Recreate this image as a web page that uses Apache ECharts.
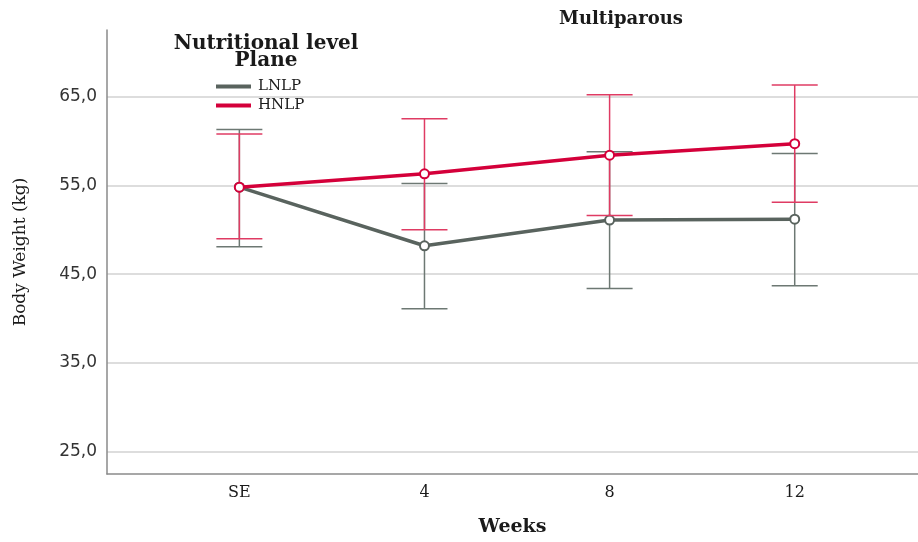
<!DOCTYPE html>
<html>
<head>
<meta charset="utf-8">
<script src="https://cdn.jsdelivr.net/npm/echarts@6/dist/echarts.min.js"></script>
<style>
  html, body { margin: 0; padding: 0; background: #ffffff; }
  #chart { width: 918px; height: 542px; }
</style>
</head>
<body>
<div id="chart"></div>
<script>
// Body weight of multiparous animals by nutritional level, mean with error bars
const weekLabels = ['SE', '4', '8', '12'];

const lnlpMean = [54.8, 48.2, 51.1, 51.2];
const lnlpLow  = [48.1, 41.1, 43.4, 43.7];
const lnlpHigh = [61.3, 55.2, 58.8, 58.6];

const hnlpMean = [54.8, 56.3, 58.4, 59.7];
const hnlpLow  = [49.0, 50.0, 51.6, 53.1];
const hnlpHigh = [60.8, 62.5, 65.2, 66.3];

const yTicks = [25, 35, 45, 55, 65];

const GRAY = '#59635e';
const GRAY_BAR = '#6d7873';
const RED = '#d4003a';
const RED_BAR = '#df3b63';
const SERIF = '"DejaVu Serif", serif';
const SANS = '"DejaVu Sans", sans-serif';

function errorBars(color) {
  return function (params, api) {
    const x = api.value(0);
    const lo = api.coord([x, api.value(1)]);
    const hi = api.coord([x, api.value(2)]);
    const hw = 23;
    const style = { stroke: color, lineWidth: 1.5, fill: null };
    return {
      type: 'group',
      children: [
        { type: 'line', shape: { x1: lo[0], y1: lo[1], x2: hi[0], y2: hi[1] }, style: style },
        { type: 'line', shape: { x1: lo[0] - hw, y1: lo[1], x2: lo[0] + hw, y2: lo[1] }, style: style },
        { type: 'line', shape: { x1: hi[0] - hw, y1: hi[1], x2: hi[0] + hw, y2: hi[1] }, style: style }
      ]
    };
  };
}

const chart = echarts.init(document.getElementById('chart'), null, { renderer: 'canvas' });

chart.setOption({
  animation: false,
  backgroundColor: '#ffffff',
  title: [
    {
      text: 'Multiparous',
      left: 616, top: 5, textAlign: 'center',
      textStyle: { fontFamily: SERIF, fontWeight: 'bold', fontSize: 18, color: '#1a1a1a' }
    },
    {
      text: 'Nutritional level\nPlane',
      left: 261, top: 30, textAlign: 'center',
      textStyle: { fontFamily: SERIF, fontWeight: 'bold', fontSize: 20, lineHeight: 17, color: '#1a1a1a' }
    }
  ],
  legend: {
    data: ['LNLP', 'HNLP'],
    orient: 'vertical',
    left: 216, top: 79, padding: 0,
    icon: 'rect',
    itemWidth: 35, itemHeight: 4, itemGap: 4,
    textStyle: { fontFamily: SERIF, fontSize: 15, color: '#1a1a1a', padding: [0, 0, 0, 2] }
  },
  grid: { left: 107, right: 0, top: 30, bottom: 65, containLabel: false },
  xAxis: {
    type: 'value',
    min: -0.715, max: 3.666,
    name: 'Weeks',
    nameLocation: 'middle',
    nameGap: 44,
    nameTextStyle: { fontFamily: SERIF, fontWeight: 'bold', fontSize: 19, color: '#1a1a1a' },
    axisLine: { show: true, onZero: false, lineStyle: { color: '#8a8a8a', width: 1.5 } },
    axisTick: { show: false },
    splitLine: { show: false },
    axisLabel: {
      customValues: [0, 1, 2, 3],
      formatter: function (v) { return weekLabels[Math.round(v)]; },
      fontFamily: SERIF, fontSize: 16, color: '#1a1a1a', margin: 11
    }
  },
  yAxis: {
    type: 'value',
    min: 22.5, max: 72.5,
    name: 'Body Weight (kg)',
    nameLocation: 'middle',
    nameGap: 78,
    nameTextStyle: { fontFamily: SERIF, fontSize: 17, color: '#1a1a1a' },
    axisLine: { show: true, onZero: false, lineStyle: { color: '#8a8a8a', width: 1.5 } },
    axisTick: { show: false, customValues: yTicks },
    splitLine: { show: true, lineStyle: { color: '#d2d2d2', width: 1.5 } },
    axisLabel: {
      customValues: yTicks,
      formatter: function (v) { return v.toFixed(1).replace('.', ','); },
      fontFamily: SANS, fontSize: 17, color: '#333333', margin: 10
    }
  },
  series: [
    {
      name: 'LNLP bars', type: 'custom', z: 2,
      renderItem: errorBars(GRAY_BAR),
      data: weekLabels.map((_, i) => [i, lnlpLow[i], lnlpHigh[i]])
    },
    {
      name: 'LNLP', type: 'line', z: 3,
      data: lnlpMean.map((v, i) => [i, v]),
      symbol: 'emptyCircle', symbolSize: 9,
      lineStyle: { color: GRAY, width: 3.5 },
      itemStyle: { color: GRAY, borderWidth: 1.5 }
    },
    {
      name: 'HNLP bars', type: 'custom', z: 4,
      renderItem: errorBars(RED_BAR),
      data: weekLabels.map((_, i) => [i, hnlpLow[i], hnlpHigh[i]])
    },
    {
      name: 'HNLP', type: 'line', z: 5,
      data: hnlpMean.map((v, i) => [i, v]),
      symbol: 'emptyCircle', symbolSize: 9,
      lineStyle: { color: RED, width: 3.5 },
      itemStyle: { color: RED, borderWidth: 1.5 }
    }
  ]
});
</script>
</body>
</html>
